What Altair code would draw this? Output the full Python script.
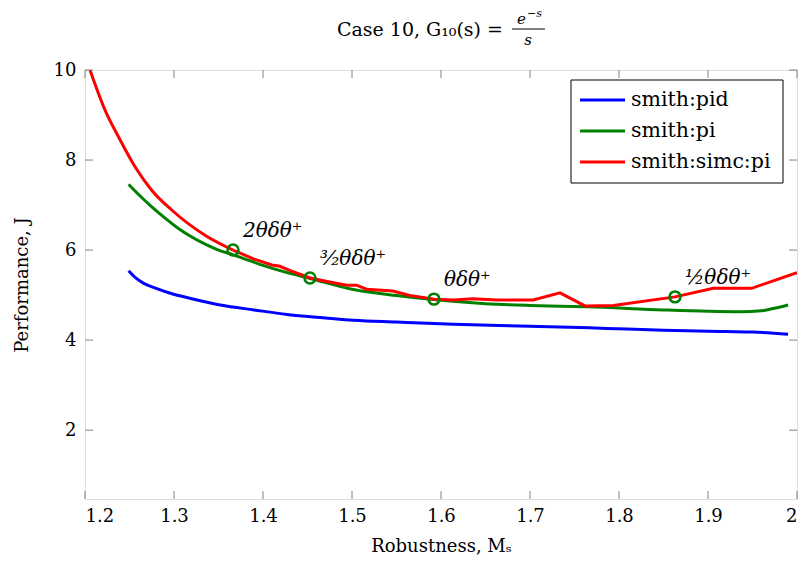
import altair as alt
import pandas as pd

# ---------------- data ----------------
series_names = ["smith:pid", "smith:pi", "smith:simc:pi"]
series_colors = ["#0000ff", "#008000", "#ff0000"]

pid_ms = [1.249, 1.257, 1.266, 1.28, 1.296, 1.32, 1.352, 1.39, 1.427, 1.46,
          1.502, 1.55, 1.614, 1.70, 1.786, 1.85, 1.92, 1.95, 1.99]
pid_j = [5.54, 5.38, 5.26, 5.15, 5.04, 4.92, 4.78, 4.67, 4.57, 4.51,
         4.44, 4.40, 4.35, 4.31, 4.26, 4.22, 4.19, 4.18, 4.13]

pi_ms = [1.249, 1.262, 1.275, 1.29, 1.305, 1.32, 1.335, 1.35, 1.366, 1.38,
         1.40, 1.425, 1.453, 1.50, 1.55, 1.591, 1.65, 1.70, 1.764, 1.85,
         1.90, 1.936, 1.96, 1.973, 1.99]
pi_j = [7.46, 7.20, 6.96, 6.71, 6.48, 6.29, 6.13, 6.00, 5.90, 5.80,
        5.66, 5.51, 5.37, 5.13, 4.99, 4.90, 4.81, 4.77, 4.74, 4.67,
        4.64, 4.63, 4.65, 4.70, 4.78]

simc_ms = [1.2056, 1.2225, 1.2375, 1.2562, 1.2749, 1.2974, 1.3348, 1.3663, 1.39, 1.41,
           1.419, 1.43, 1.4528, 1.475, 1.494, 1.505, 1.5165, 1.546, 1.565, 1.5921,
           1.614, 1.636, 1.6625, 1.7036, 1.7337, 1.7618, 1.7936, 1.8629, 1.906, 1.949,
           2.0]
simc_j = [10.0, 9.11, 8.52, 7.85, 7.33, 6.89, 6.33, 6.00, 5.80, 5.67,
          5.64, 5.55, 5.38, 5.29, 5.22, 5.22, 5.13, 5.09, 4.99, 4.91,
          4.89, 4.92, 4.89, 4.89, 5.05, 4.76, 4.77, 4.96, 5.15, 5.15,
          5.50]
simc_smooth_until = 8  # the steep left part of this curve is smooth

marker_ms = [1.3663, 1.4528, 1.5921, 1.8629]
marker_j = [6.00, 5.38, 4.91, 4.96]
marker_labels = ["2θδθ⁺", "³⁄₂θδθ⁺", "θδθ⁺", "½θδθ⁺"]

x_ticks = [1.2, 1.3, 1.4, 1.5, 1.6, 1.7, 1.8, 1.9, 2.0]
y_ticks = [2, 4, 6, 8, 10]

title_main = "Case 10, G₁₀(s) ="
title_num = "e"
title_exp = "−s"
title_den = "s"
x_title = "Robustness, Mₛ"
y_title = "Performance, J"

# ---------------- build tables ----------------
def table(name, xs_, ys_):
    return pd.DataFrame({"series": name, "ms": xs_, "j": ys_, "order": list(range(len(xs_)))})

smooth_df = pd.concat([
    table(series_names[0], pid_ms, pid_j),
    table(series_names[1], pi_ms, pi_j),
    table(series_names[2], simc_ms[:simc_smooth_until], simc_j[:simc_smooth_until]),
])
linear_df = table(series_names[2], simc_ms[simc_smooth_until - 1:], simc_j[simc_smooth_until - 1:])

mk = pd.DataFrame({"ms": marker_ms, "j": marker_j, "label": marker_labels})
xt = pd.DataFrame({"t": x_ticks})
yt = pd.DataFrame({"t": y_ticks})

FONT = "DejaVu Serif"
W, H = 712, 429
xs = alt.Scale(domain=[1.2, 2.0], nice=False, zero=False)
ys = alt.Scale(domain=[0.47, 10], nice=False, zero=False)

x_axis = alt.Axis(values=x_ticks, labelExpr="datum.value == 2 ? '2' : format(datum.value, '.1f')",
                  title=x_title, domain=False, ticks=False, grid=False,
                  labelFont=FONT, labelFontSize=18, labelColor="black", labelPadding=8,
                  titleFont=FONT, titleFontSize=18, titleFontWeight="normal", titleColor="black",
                  titlePadding=12)
y_axis = alt.Axis(values=y_ticks, title=y_title, domain=False, ticks=False, grid=False,
                  labelFont=FONT, labelFontSize=18, labelColor="black", labelPadding=9,
                  titleFont=FONT, titleFontSize=18, titleFontWeight="normal", titleColor="black",
                  titlePadding=22)

color_scale = alt.Scale(domain=series_names, range=series_colors)

lines_smooth = alt.Chart(smooth_df).mark_line(strokeWidth=3, clip=True, interpolate="monotone").encode(
    x=alt.X("ms:Q", scale=xs, axis=x_axis),
    y=alt.Y("j:Q", scale=ys, axis=y_axis),
    color=alt.Color("series:N", scale=color_scale, legend=None),
    order="order:Q",
)
lines_linear = alt.Chart(linear_df).mark_line(strokeWidth=3, clip=True).encode(
    x=alt.X("ms:Q", scale=xs, axis=x_axis),
    y=alt.Y("j:Q", scale=ys, axis=y_axis),
    color=alt.Color("series:N", scale=color_scale, legend=None),
    order="order:Q",
)

markers = alt.Chart(mk).mark_point(shape="circle", filled=False, size=120, strokeWidth=2.5,
                                   color="#008000", opacity=1).encode(
    x=alt.X("ms:Q", scale=xs, axis=x_axis), y=alt.Y("j:Q", scale=ys, axis=y_axis))

labels = alt.Chart(mk).mark_text(align="left", baseline="middle", dx=10, dy=-19, font=FONT,
                                 fontSize=20, fontStyle="italic", color="black").encode(
    x=alt.X("ms:Q", scale=xs, axis=x_axis), y=alt.Y("j:Q", scale=ys, axis=y_axis), text="label:N")

tick_style = dict(color="#808080", strokeWidth=1)
xb = alt.Chart(xt).mark_rule(**tick_style).encode(x=alt.X("t:Q", scale=xs, axis=x_axis),
                                                   y=alt.value(H), y2=alt.value(H - 8))
xtop = alt.Chart(xt).mark_rule(**tick_style).encode(x=alt.X("t:Q", scale=xs, axis=x_axis),
                                                     y=alt.value(0), y2=alt.value(8))
yl = alt.Chart(yt).mark_rule(**tick_style).encode(y=alt.Y("t:Q", scale=ys, axis=y_axis),
                                                   x=alt.value(0), x2=alt.value(8))
yr = alt.Chart(yt).mark_rule(**tick_style).encode(y=alt.Y("t:Q", scale=ys, axis=y_axis),
                                                   x=alt.value(W), x2=alt.value(W - 8))

# ---------------- manual legend (pgfplots style) ----------------
leg_box = alt.Chart(pd.DataFrame({"k": [0]})).mark_rect(fill="white", stroke="black", strokeWidth=1).encode(
    x=alt.value(486), x2=alt.value(698), y=alt.value(10), y2=alt.value(113))
leg_layers = [leg_box]
for i, (name, col) in enumerate(zip(series_names, series_colors)):
    ry = 30 + 31 * i
    rdf = pd.DataFrame({"name": [name]})
    leg_layers.append(alt.Chart(rdf).mark_rule(color=col, strokeWidth=3).encode(
        x=alt.value(495), x2=alt.value(540), y=alt.value(ry)))
    leg_layers.append(alt.Chart(rdf).mark_text(align="left", baseline="middle", font=FONT, fontSize=20.5,
                                               color="black").encode(
        x=alt.value(546), y=alt.value(ry), text="name:N"))

# ---------------- title ----------------
tdf = pd.DataFrame({"t": [title_main]})
t_main = alt.Chart(tdf).mark_text(align="right", baseline="middle", font=FONT, fontSize=19,
                                  color="black").encode(x=alt.value(418), y=alt.value(-40), text="t:N")
t_num = alt.Chart(pd.DataFrame({"t": [title_num]})).mark_text(
    align="right", baseline="middle", font=FONT, fontSize=15, fontStyle="italic", color="black").encode(
    x=alt.value(441), y=alt.value(-51), text="t:N")
t_exp = alt.Chart(pd.DataFrame({"t": [title_exp]})).mark_text(
    align="left", baseline="middle", font=FONT, fontSize=11, fontStyle="italic", color="black").encode(
    x=alt.value(442), y=alt.value(-56), text="t:N")
ddf = pd.DataFrame({"t": [title_den]})
t_den = alt.Chart(ddf).mark_text(align="center", baseline="middle", font=FONT, fontSize=15,
                                 fontStyle="italic", color="black").encode(
    x=alt.value(443), y=alt.value(-30), text="t:N")
t_bar = alt.Chart(ddf).mark_rule(color="black", strokeWidth=1).encode(
    x=alt.value(427), x2=alt.value(460), y=alt.value(-41))

chart = alt.layer(lines_smooth, lines_linear, markers, labels, xb, xtop, yl, yr, *leg_layers,
                  t_main, t_num, t_exp, t_den, t_bar).properties(
    width=W, height=H,
    padding={"left": 77, "top": 62, "right": 1, "bottom": 58},
    autosize=alt.AutoSizeParams(type="none"),
).configure_view(stroke="black", strokeWidth=1).configure(background="white")

chart.save("out.html", embed_options={"renderer": "svg", "actions": False})
